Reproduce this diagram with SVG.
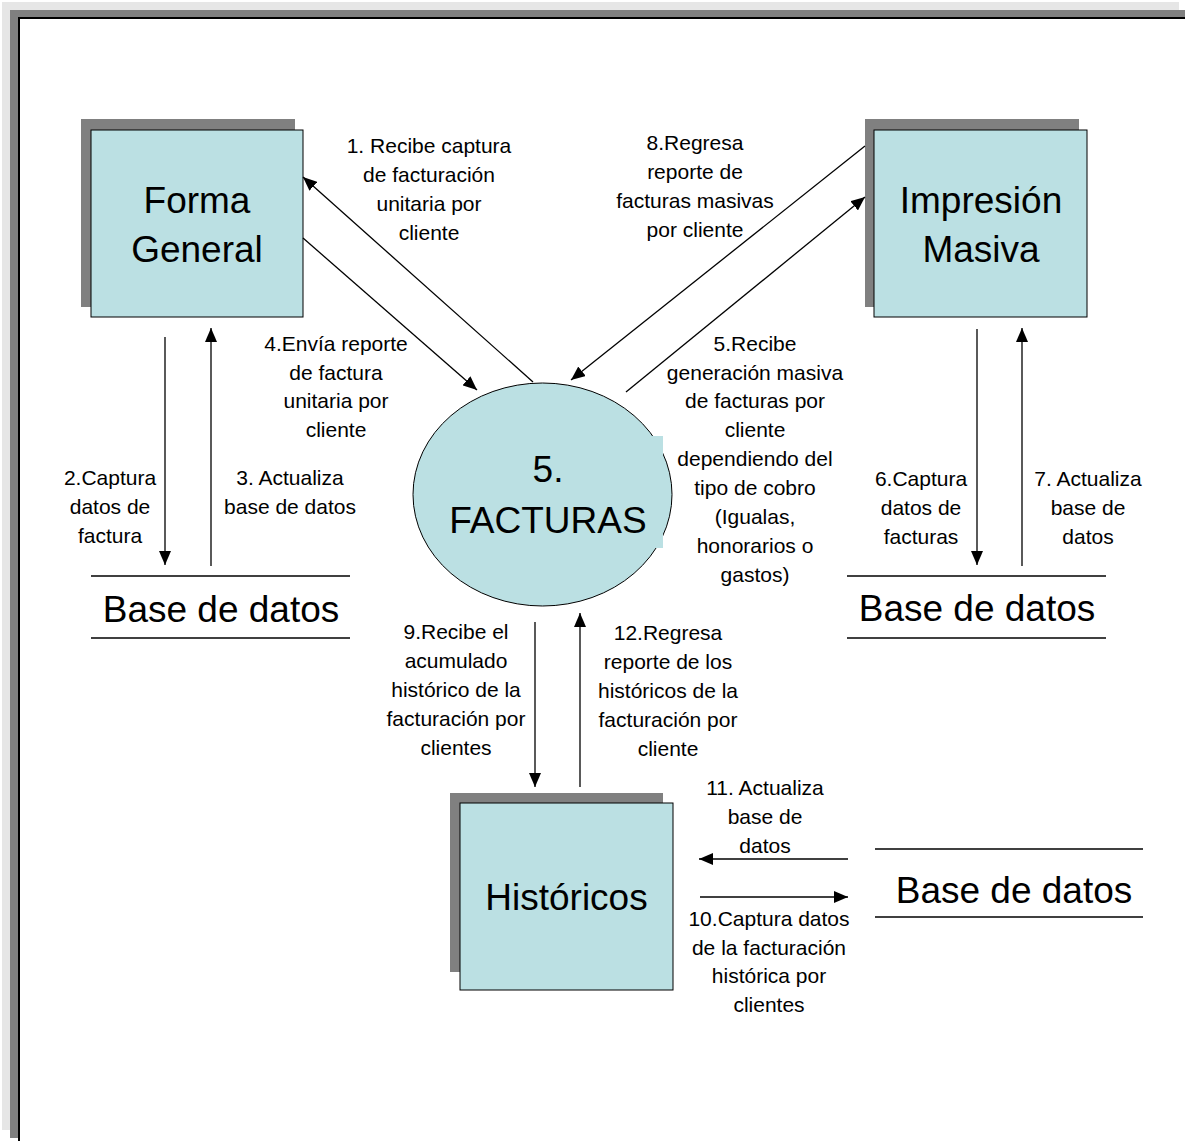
<svg xmlns="http://www.w3.org/2000/svg" width="1185" height="1141" viewBox="0 0 1185 1141">
  <style>
    .lbl { font-family: "Liberation Sans", Arial, sans-serif; font-size: 21px; fill: #000; text-anchor: middle; }
    .big { font-family: "Liberation Sans", Arial, sans-serif; font-size: 37px; fill: #000; text-anchor: middle; }
    .box { fill: #bbe0e3; stroke: #000; stroke-width: 1; }
    .shadow { fill: #808080; }
    .flow { stroke: #000; stroke-width: 1.3; fill: none; marker-end: url(#arrow); }
    .store { stroke: #000; stroke-width: 1.3; }
  </style>
  <defs>
    <marker id="arrow" markerUnits="userSpaceOnUse" markerWidth="14" markerHeight="12" refX="14" refY="6" orient="auto">
      <path d="M0,0 L14,6 L0,12 z" fill="#000"/>
    </marker>
  </defs>

  <!-- window frame -->
  <rect x="0" y="0" width="1185" height="1141" fill="#fff"/>
  <rect x="2" y="2" width="1177" height="1128" fill="#e6e6e6"/>
  <rect x="10" y="10" width="1175" height="1128" fill="#808080"/>
  <rect x="18" y="17" width="1167" height="1124" fill="#000"/>
  <rect x="20" y="19" width="1165" height="1122" fill="#fff"/>

  <!-- processes and entities -->
  <g id="forma-general">
    <rect class="shadow" x="81" y="119" width="214" height="188"/>
    <rect class="box" x="91" y="130" width="212" height="187"/>
    <text class="big" x="197" y="213">Forma</text>
    <text class="big" x="197" y="262">General</text>
  </g>

  <g id="impresion-masiva">
    <rect class="shadow" x="865" y="119" width="214" height="188"/>
    <rect class="box" x="874" y="130" width="213" height="187"/>
    <text class="big" x="981" y="213">Impresión</text>
    <text class="big" x="981" y="262">Masiva</text>
  </g>

  <g id="facturas">
    <ellipse class="box" cx="542.5" cy="494.5" rx="129.5" ry="111.5"/>
    <rect x="600" y="436" width="63" height="112" fill="#bbe0e3"/>
    <text class="big" x="548" y="482">5.</text>
    <text class="big" x="548" y="533">FACTURAS</text>
  </g>

  <g id="historicos">
    <rect class="shadow" x="450" y="793" width="213" height="179"/>
    <rect class="box" x="460" y="803" width="213" height="187"/>
    <text class="big" x="566.5" y="910">Históricos</text>
  </g>

  <g id="base-datos-1">
    <line class="store" x1="91" y1="576" x2="350" y2="576"/>
    <line class="store" x1="91" y1="638" x2="350" y2="638"/>
    <text class="big" x="221" y="622">Base de datos</text>
  </g>

  <g id="base-datos-2">
    <line class="store" x1="847" y1="576" x2="1106" y2="576"/>
    <line class="store" x1="847" y1="638" x2="1106" y2="638"/>
    <text class="big" x="977" y="621">Base de datos</text>
  </g>

  <g id="base-datos-3">
    <line class="store" x1="875" y1="849" x2="1143" y2="849"/>
    <line class="store" x1="875" y1="917" x2="1143" y2="917"/>
    <text class="big" x="1014" y="903">Base de datos</text>
  </g>

  <!-- data flows -->
  <g id="connectors">
    <line class="flow" x1="533" y1="382" x2="303" y2="177"/>
    <line class="flow" x1="303" y1="238" x2="477" y2="390"/>
    <line class="flow" x1="865" y1="146" x2="571" y2="380"/>
    <line class="flow" x1="626" y1="392" x2="865" y2="197"/>
    <line class="flow" x1="165" y1="337" x2="165" y2="565"/>
    <line class="flow" x1="211" y1="566" x2="211" y2="328"/>
    <line class="flow" x1="977" y1="329" x2="977" y2="565"/>
    <line class="flow" x1="1022" y1="566" x2="1022" y2="328"/>
    <line class="flow" x1="535" y1="622" x2="535" y2="787"/>
    <line class="flow" x1="580" y1="787" x2="580" y2="613"/>
    <line class="flow" x1="848" y1="859" x2="699" y2="859"/>
    <line class="flow" x1="700" y1="897" x2="848" y2="897"/>
  </g>

  <!-- flow labels -->
  <g id="labels">
    <text class="lbl" x="429" y="153">1. Recibe captura</text>
    <text class="lbl" x="429" y="182">de facturación</text>
    <text class="lbl" x="429" y="211">unitaria por</text>
    <text class="lbl" x="429" y="240">cliente</text>

    <text class="lbl" x="695" y="150">8.Regresa</text>
    <text class="lbl" x="695" y="179">reporte de</text>
    <text class="lbl" x="695" y="208">facturas masivas</text>
    <text class="lbl" x="695" y="237">por cliente</text>

    <text class="lbl" x="336" y="351">4.Envía reporte</text>
    <text class="lbl" x="336" y="380">de factura</text>
    <text class="lbl" x="336" y="408">unitaria por</text>
    <text class="lbl" x="336" y="437">cliente</text>

    <text class="lbl" x="755" y="351">5.Recibe</text>
    <text class="lbl" x="755" y="380">generación masiva</text>
    <text class="lbl" x="755" y="408">de facturas por</text>
    <text class="lbl" x="755" y="437">cliente</text>
    <text class="lbl" x="755" y="466">dependiendo del</text>
    <text class="lbl" x="755" y="495">tipo de cobro</text>
    <text class="lbl" x="755" y="524">(Igualas,</text>
    <text class="lbl" x="755" y="553">honorarios o</text>
    <text class="lbl" x="755" y="582">gastos)</text>

    <text class="lbl" x="110" y="485">2.Captura</text>
    <text class="lbl" x="110" y="514">datos de</text>
    <text class="lbl" x="110" y="543">factura</text>

    <text class="lbl" x="290" y="485">3. Actualiza</text>
    <text class="lbl" x="290" y="514">base de datos</text>

    <text class="lbl" x="921" y="486">6.Captura</text>
    <text class="lbl" x="921" y="515">datos de</text>
    <text class="lbl" x="921" y="544">facturas</text>

    <text class="lbl" x="1088" y="486">7. Actualiza</text>
    <text class="lbl" x="1088" y="515">base de</text>
    <text class="lbl" x="1088" y="544">datos</text>

    <text class="lbl" x="456" y="639">9.Recibe el</text>
    <text class="lbl" x="456" y="668">acumulado</text>
    <text class="lbl" x="456" y="697">histórico de la</text>
    <text class="lbl" x="456" y="726">facturación por</text>
    <text class="lbl" x="456" y="755">clientes</text>

    <text class="lbl" x="668" y="640">12.Regresa</text>
    <text class="lbl" x="668" y="669">reporte de los</text>
    <text class="lbl" x="668" y="698">históricos de la</text>
    <text class="lbl" x="668" y="727">facturación por</text>
    <text class="lbl" x="668" y="756">cliente</text>

    <text class="lbl" x="765" y="795">11. Actualiza</text>
    <text class="lbl" x="765" y="824">base de</text>
    <text class="lbl" x="765" y="853">datos</text>

    <text class="lbl" x="769" y="926">10.Captura datos</text>
    <text class="lbl" x="769" y="955">de la facturación</text>
    <text class="lbl" x="769" y="983">histórica por</text>
    <text class="lbl" x="769" y="1012">clientes</text>
  </g>
</svg>
